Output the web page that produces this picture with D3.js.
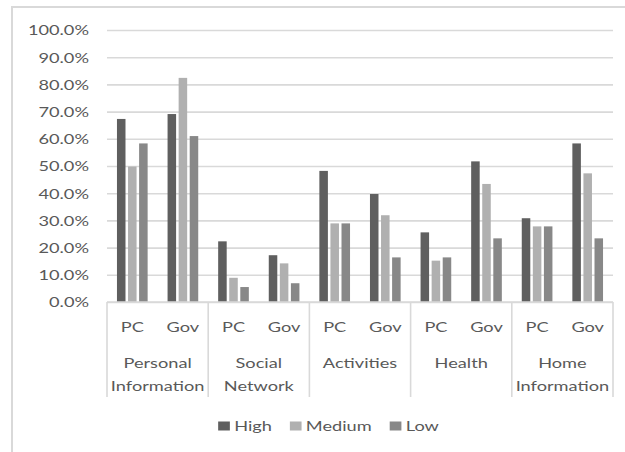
<!DOCTYPE html>
<html>
<head>
<meta charset="utf-8">
<script src="https://cdn.jsdelivr.net/npm/d3@7"></script>
<style>
  html, body { margin: 0; padding: 0; background: #fff; }
  svg text { font-family: Lato, "Open Sans", sans-serif; fill: #595959; }
</style>
</head>
<body>
<svg id="chart" width="625" height="452"></svg>
<script>
// Share of respondents by sensitivity level, per data type and requester
const categories = ["Personal Information", "Social Network", "Activities", "Health", "Home Information"];
const requesters = ["PC", "Gov"];
const series = ["High", "Medium", "Low"];

// values[category][requester] in %, order High, Medium, Low
const high   = [67.3, 69.1, 22.3, 17.2, 48.2, 39.7, 25.6, 51.7, 30.8, 58.3];
const medium = [49.8, 82.4,  8.9, 14.2, 28.9, 31.9, 15.2, 43.4, 27.8, 47.3];
const low    = [58.3, 61.0,  5.5,  6.9, 28.9, 16.4, 16.4, 23.4, 27.8, 23.4];
const yTicks = [0, 10, 20, 30, 40, 50, 60, 70, 80, 90, 100];

const colors = { High: "#5f5f5f", Medium: "#b0b0b0", Low: "#888888" };
const seriesValues = { High: high, Medium: medium, Low: low };

const rows = [];
categories.forEach((c, ci) => {
  requesters.forEach((r, ri) => {
    series.forEach(s => rows.push({ category: c, requester: r, series: s, value: seriesValues[s][ci * 2 + ri] }));
  });
});

const svg = d3.select("#chart");
const SX = 1.3;          // horizontal stretch of all labels
const FS = 14;           // label font size
const plot = { left: 107, right: 613, top: 30, bottom: 302 };

// chart frame
svg.append("rect")
  .attr("x", 12).attr("y", 7).attr("width", 700).attr("height", 500)
  .attr("fill", "none").attr("stroke", "#d9d9d9").attr("stroke-width", 2);

const y = d3.scaleLinear().domain([0, 100]).range([plot.bottom, plot.top]);
const x0 = d3.scaleBand().domain(categories).range([plot.left, plot.right]);
const x1 = d3.scaleBand().domain(requesters).range([0, x0.bandwidth()]);
const x2 = d3.scaleBand().domain(series).range([0, x1.bandwidth()])
  .paddingInner(0.23).paddingOuter(0.9);

// y axis with gridlines
const yAxis = svg.append("g")
  .attr("transform", `translate(${plot.left},0)`)
  .call(d3.axisLeft(y).tickValues(yTicks)
    .tickSize(-(plot.right - plot.left))
    .tickFormat(d => d3.format(".1f")(d) + "%"));
yAxis.select(".domain").remove();
yAxis.selectAll(".tick line").attr("stroke", "#d9d9d9").attr("stroke-width", 1.6);
yAxis.selectAll(".tick text")
  .attr("x", null).attr("dy", "0.35em")
  .attr("transform", `translate(-18,0) scale(${SX},1)`)
  .attr("text-anchor", "end")
  .style("font-size", FS + "px");

// bars
svg.append("g").selectAll("rect")
  .data(rows)
  .join("rect")
  .attr("x", d => x0(d.category) + x1(d.requester) + x2(d.series))
  .attr("y", d => y(d.value))
  .attr("width", x2.bandwidth())
  .attr("height", d => y(0) - y(d.value))
  .attr("fill", d => colors[d.series]);

// x axis: baseline, group separators, labels
const xAxis = svg.append("g");
xAxis.append("line")
  .attr("x1", plot.left).attr("x2", plot.right)
  .attr("y1", y(0)).attr("y2", y(0))
  .attr("stroke", "#d9d9d9").attr("stroke-width", 1.6);

const edges = categories.map(c => x0(c)).concat([x0(categories[categories.length - 1]) + x0.bandwidth()]);
xAxis.selectAll("line.sep")
  .data(edges)
  .join("line")
  .attr("class", "sep")
  .attr("x1", d => d).attr("x2", d => d)
  .attr("y1", y(0)).attr("y2", 397)
  .attr("stroke", "#d9d9d9").attr("stroke-width", 1.6);

categories.forEach(c => {
  requesters.forEach(r => {
    xAxis.append("text")
      .attr("transform", `translate(${x0(c) + x1(r) + x1.bandwidth() / 2},327) scale(${SX},1)`)
      .attr("text-anchor", "middle").attr("dy", "0.35em")
      .style("font-size", FS + "px")
      .text(r);
  });
  c.split(" ").forEach((word, li) => {
    xAxis.append("text")
      .attr("transform", `translate(${x0(c) + x0.bandwidth() / 2},${363 + li * 23}) scale(${SX},1)`)
      .attr("text-anchor", "middle").attr("dy", "0.35em")
      .style("font-size", FS + "px")
      .text(word);
  });
});

// legend
const legend = svg.append("g");
const items = legend.selectAll("g").data(series).join("g");
items.append("rect")
  .attr("width", 9).attr("height", 9)
  .attr("y", -4.5)
  .attr("transform", `scale(${SX},1)`)
  .attr("fill", d => colors[d]);
items.append("text")
  .attr("dy", "0.35em")
  .attr("transform", `translate(16,0) scale(${SX},1)`)
  .style("font-size", FS + "px")
  .text(d => d);
let cursor = 0;
items.each(function () {
  const t = d3.select(this).select("text").node();
  const w = 16 + t.getComputedTextLength() * SX;
  d3.select(this).attr("data-w", w).attr("data-x", cursor);
  cursor += w + 18;
});
const total = cursor - 18;
const lx = 328.5 - total / 2;
items.attr("transform", function () { return `translate(${lx + +this.getAttribute("data-x")},426)`; });
</script>
</body>
</html>
